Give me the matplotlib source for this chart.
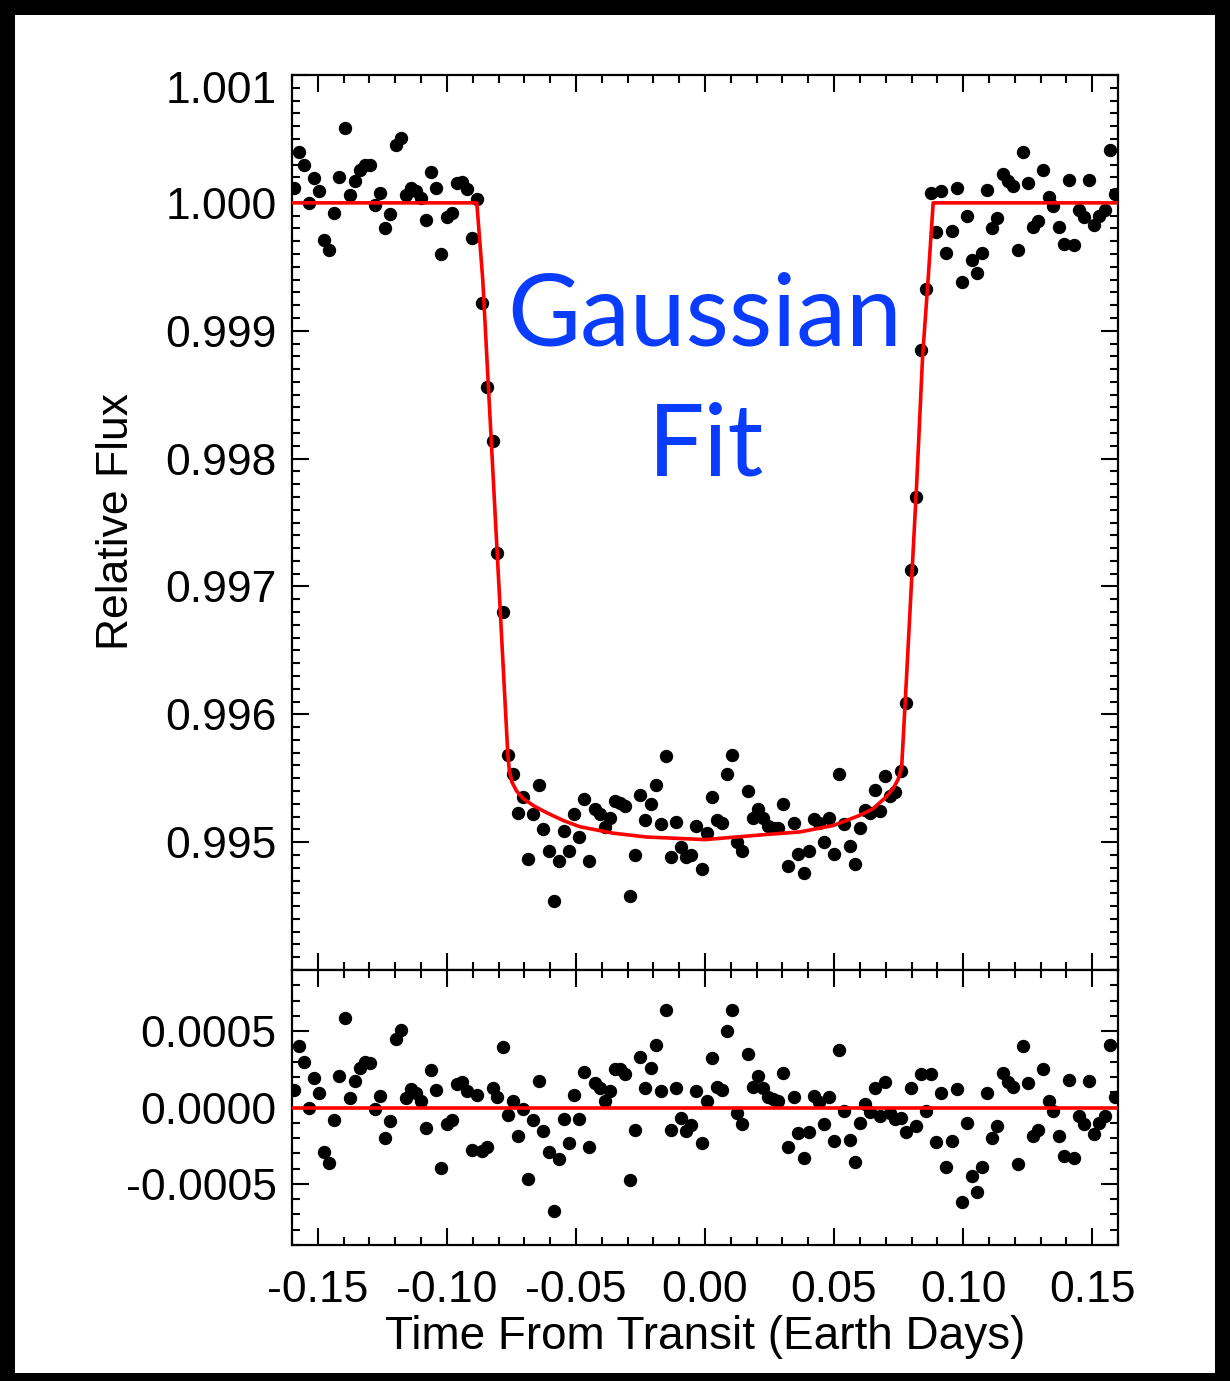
import matplotlib
matplotlib.use('Agg')
import matplotlib.pyplot as plt
import matplotlib.transforms as mtransforms
from matplotlib.ticker import MultipleLocator
from matplotlib.patches import Rectangle

# time of each exposure (days from mid-transit)
time = [-0.1594, -0.1574, -0.1554, -0.1535, -0.1515, -0.1495, -0.1475, -0.1456, -0.1436, -0.1416,
        -0.1396, -0.1377, -0.1357, -0.1337, -0.1317, -0.1298, -0.1278, -0.1258, -0.1238, -0.1219,
        -0.1199, -0.1179, -0.1159, -0.1140, -0.1120, -0.1100, -0.1080, -0.1060, -0.1041, -0.1021,
        -0.1001, -0.0981, -0.0962, -0.0942, -0.0922, -0.0902, -0.0883, -0.0863, -0.0843, -0.0823,
        -0.0804, -0.0784, -0.0764, -0.0744, -0.0725, -0.0705, -0.0685, -0.0665, -0.0645, -0.0626,
        -0.0606, -0.0586, -0.0566, -0.0547, -0.0527, -0.0507, -0.0487, -0.0468, -0.0448, -0.0428,
        -0.0408, -0.0389, -0.0369, -0.0349, -0.0329, -0.0310, -0.0290, -0.0270, -0.0250, -0.0231,
        -0.0211, -0.0191, -0.0171, -0.0151, -0.0132, -0.0112, -0.0092, -0.0072, -0.0053, -0.0033,
        -0.0013, 0.0007, 0.0026, 0.0046, 0.0066, 0.0086, 0.0105, 0.0125, 0.0145, 0.0165,
        0.0185, 0.0204, 0.0224, 0.0244, 0.0264, 0.0283, 0.0303, 0.0323, 0.0343, 0.0362,
        0.0382, 0.0402, 0.0422, 0.0441, 0.0461, 0.0481, 0.0501, 0.0520, 0.0540, 0.0560,
        0.0580, 0.0599, 0.0619, 0.0639, 0.0659, 0.0679, 0.0698, 0.0718, 0.0738, 0.0758,
        0.0777, 0.0797, 0.0817, 0.0837, 0.0856, 0.0876, 0.0896, 0.0916, 0.0935, 0.0955,
        0.0975, 0.0995, 0.1014, 0.1034, 0.1054, 0.1074, 0.1093, 0.1113, 0.1133, 0.1153,
        0.1172, 0.1192, 0.1212, 0.1232, 0.1251, 0.1271, 0.1291, 0.1311, 0.1331, 0.1350,
        0.1370, 0.1390, 0.1410, 0.1429, 0.1449, 0.1469, 0.1489, 0.1508, 0.1528, 0.1548,
        0.1568, 0.1587]

flux = [1.000115, 1.000400, 1.000299, 0.999996, 1.000195, 1.000093, 0.999710, 0.999634, 0.999920, 1.000206,
        1.000585, 1.000063, 1.000171, 1.000260, 1.000299, 1.000294, 0.999987, 1.000076, 0.999801, 0.999909,
        1.000450, 1.000509, 1.000065, 1.000119, 1.000093, 1.000041, 0.999868, 1.000245, 1.000117, 0.999602,
        0.999892, 0.999920, 1.000152, 1.000165, 1.000108, 0.999725, 1.000030, 0.999220, 0.998560, 0.998140,
        0.997260, 0.996800, 0.995680, 0.995530, 0.995230, 0.995350, 0.994870, 0.995220, 0.995450, 0.995100,
        0.994930, 0.994540, 0.994850, 0.995090, 0.994930, 0.995220, 0.995040, 0.995340, 0.994850, 0.995260,
        0.995220, 0.995120, 0.995190, 0.995320, 0.995310, 0.995280, 0.994580, 0.994900, 0.995370, 0.995170,
        0.995300, 0.995450, 0.995140, 0.995670, 0.994880, 0.995160, 0.994960, 0.994880, 0.994900, 0.995130,
        0.994790, 0.995070, 0.995350, 0.995170, 0.995150, 0.995530, 0.995680, 0.995000, 0.994930, 0.995400,
        0.995190, 0.995260, 0.995190, 0.995130, 0.995110, 0.995110, 0.995300, 0.994810, 0.995150, 0.994910,
        0.994760, 0.994930, 0.995180, 0.995150, 0.995000, 0.995190, 0.994910, 0.995530, 0.995140, 0.994970,
        0.994830, 0.995110, 0.995250, 0.995230, 0.995410, 0.995240, 0.995520, 0.995360, 0.995390, 0.995560,
        0.996090, 0.997130, 0.997700, 0.998850, 0.999330, 1.000080, 0.999775, 1.000093, 0.999610, 0.999783,
        1.000119, 0.999383, 0.999898, 0.999552, 0.999450, 0.999610, 1.000097, 0.999801, 0.999881, 1.000229,
        1.000169, 1.000132, 0.999628, 1.000400, 1.000158, 0.999812, 0.999855, 1.000255, 1.000043, 0.999978,
        0.999812, 0.999682, 1.000180, 0.999667, 0.999942, 0.999892, 1.000175, 0.999827, 0.999898, 0.999946,
        1.000411, 1.000067]

resid = [1.15e-4, 4.00e-4, 2.99e-4, -0.04e-4, 1.95e-4, 0.93e-4, -2.90e-4, -3.66e-4, -0.80e-4, 2.06e-4,
         5.85e-4, 0.63e-4, 1.71e-4, 2.60e-4, 2.99e-4, 2.94e-4, -0.13e-4, 0.76e-4, -1.99e-4, -0.91e-4,
         4.50e-4, 5.09e-4, 0.65e-4, 1.19e-4, 0.93e-4, 0.41e-4, -1.32e-4, 2.45e-4, 1.17e-4, -3.98e-4,
         -1.08e-4, -0.80e-4, 1.52e-4, 1.65e-4, 1.08e-4, -2.75e-4, 0.82e-4, -2.86e-4, -2.58e-4, 1.26e-4,
         0.67e-4, 3.96e-4, -0.48e-4, 0.43e-4, -1.88e-4, -0.09e-4, -4.65e-4, -0.84e-4, 1.73e-4, -1.52e-4,
         -2.92e-4, -6.75e-4, -3.36e-4, -0.78e-4, -2.32e-4, 0.82e-4, -0.76e-4, 2.34e-4, -2.58e-4, 1.62e-4,
         1.30e-4, 0.43e-4, 1.10e-4, 2.49e-4, 2.49e-4, 2.17e-4, -4.72e-4, -1.47e-4, 3.31e-4, 1.30e-4,
         2.60e-4, 4.11e-4, 1.10e-4, 6.41e-4, -1.47e-4, 1.26e-4, -0.71e-4, -1.52e-4, -1.17e-4, 1.10e-4,
         -2.32e-4, 0.45e-4, 3.27e-4, 1.36e-4, 1.15e-4, 5.04e-4, 6.41e-4, -0.37e-4, -1.08e-4, 3.53e-4,
         1.36e-4, 2.08e-4, 1.26e-4, 0.71e-4, 0.54e-4, 0.43e-4, 2.29e-4, -2.60e-4, 0.71e-4, -1.67e-4,
         -3.33e-4, -1.62e-4, 0.78e-4, 0.35e-4, -1.10e-4, 0.71e-4, -2.21e-4, 3.79e-4, -0.22e-4, -2.12e-4,
         -3.57e-4, -1.02e-4, 0.24e-4, -0.30e-4, 1.26e-4, -0.58e-4, 1.65e-4, -0.37e-4, -0.76e-4, -0.71e-4,
         -1.62e-4, 1.26e-4, -1.23e-4, 2.17e-4, -0.22e-4, 2.17e-4, -2.25e-4, 0.93e-4, -3.90e-4, -2.17e-4,
         1.19e-4, -6.17e-4, -1.02e-4, -4.48e-4, -5.50e-4, -3.90e-4, 0.97e-4, -1.99e-4, -1.19e-4, 2.29e-4,
         1.69e-4, 1.32e-4, -3.72e-4, 4.00e-4, 1.58e-4, -1.88e-4, -1.45e-4, 2.55e-4, 0.43e-4, -0.22e-4,
         -1.88e-4, -3.18e-4, 1.80e-4, -3.33e-4, -0.58e-4, -1.08e-4, 1.75e-4, -1.73e-4, -1.02e-4, -0.54e-4,
         4.11e-4, 0.67e-4]

# the red model curve
fit_time = [-0.1600, -0.0884, -0.0861, -0.0764, -0.0758, -0.0748, -0.0730, -0.0704, -0.0660, -0.0613,
            -0.0550, -0.0484, -0.0355, -0.0226, 0.0000, 0.0239, 0.0368, 0.0497, 0.0600, 0.0650,
            0.0700, 0.0729, 0.0748, 0.0762, 0.0781, 0.0820, 0.0843, 0.0865, 0.0884, 0.1600]
fit_flux = [1.00000, 1.00000, 0.99940, 0.99569, 0.99556, 0.99547, 0.99540, 0.99534, 0.99528, 0.99523,
            0.99517, 0.99512, 0.99507, 0.99504, 0.99502, 0.99506, 0.99508, 0.99513, 0.99521, 0.99526,
            0.99535, 0.99542, 0.99549, 0.99559, 0.99630, 0.99780, 0.99880, 0.99942, 1.00000, 1.00000]

x_ticks = [-0.15, -0.10, -0.05, 0.00, 0.05, 0.10, 0.15]
x_tick_labels = ['-0.15', '-0.10', '-0.05', '0.00', '0.05', '0.10', '0.15']
flux_ticks = [0.995, 0.996, 0.997, 0.998, 0.999, 1.000, 1.001]
flux_tick_labels = ['0.995', '0.996', '0.997', '0.998', '0.999', '1.000', '1.001']
resid_ticks = [-0.0005, 0.0, 0.0005]
resid_tick_labels = ['-0.0005', '0.0000', '0.0005']

plt.rcParams['font.family'] = ['Liberation Sans', 'DejaVu Sans']

W, H = 1230, 1381
fig = plt.figure(figsize=(W / 100, H / 100), dpi=100, facecolor='black')
# white card behind everything, black frame around it
fig.patches.append(Rectangle((15 / W, 8 / H), 1200 / W, 1358 / H, transform=fig.transFigure,
                             facecolor='white', edgecolor='none', zorder=-10))

ax = fig.add_axes([292 / W, 1 - 970 / H, 826 / W, 895 / H])
ax_res = fig.add_axes([292 / W, 1 - 1245 / H, 826 / W, 275 / H])


def style_axis(a, y_minor):
    a.set_xlim(-0.16, 0.16)
    a.xaxis.set_major_locator(MultipleLocator(0.05))
    a.xaxis.set_minor_locator(MultipleLocator(0.01))
    a.yaxis.set_minor_locator(MultipleLocator(y_minor))
    a.tick_params(which='both', direction='in', top=True, right=True, width=1.5, colors='black')
    a.tick_params(which='major', length=12.5, labelsize=32, pad=11)
    a.tick_params(which='minor', length=6)
    for s in a.spines.values():
        s.set_linewidth(1.6)


# upper panel: light curve and fit
ax.plot(time, flux, 'o', color='black', ms=8.6, zorder=2)
ax.plot(fit_time, fit_flux, color='red', lw=2.6, zorder=3)
ax.set_ylim(0.994, 1.001)
ax.set_yticks(flux_ticks)
ax.set_yticklabels(flux_tick_labels)
style_axis(ax, 0.0001)
ax.set_xticks(x_ticks)
ax.tick_params(axis='x', labelbottom=False)
# the top label sits a little below its tick in the original
top_label = ax.get_yticklabels()[-1]
top_label.set_transform(top_label.get_transform() +
                        mtransforms.ScaledTranslation(0, -12 / 100, fig.dpi_scale_trans))

# lower panel: residuals
ax_res.plot(time, resid, 'o', color='black', ms=8.6, zorder=2)
ax_res.axhline(0.0, color='red', lw=2.6, zorder=3)
ax_res.set_ylim(-0.0009, 0.0009)
ax_res.set_yticks(resid_ticks)
ax_res.set_yticklabels(resid_tick_labels)
style_axis(ax_res, 0.0001)
ax_res.set_xticks(x_ticks)
ax_res.set_xticklabels(x_tick_labels)
ax_res.tick_params(axis='x', pad=18)

fig.text(116 / W, 1 - 522 / H, 'Relative Flux', rotation=90, ha='center', va='center', fontsize=32)
fig.text(705 / W, 1 - 1337 / H, 'Time From Transit (Earth Days)', ha='center', va='center', fontsize=33)

fig.text(705 / W, 1 - 345 / H, 'Gaussian', ha='center', va='baseline', fontsize=72,
         family='Lato', color='#0A3CFF')
fig.text(706 / W, 1 - 475 / H, 'Fit', ha='center', va='baseline', fontsize=72,
         family='Lato', color='#0A3CFF')

fig.savefig('out.png', dpi=100, facecolor=fig.get_facecolor())
